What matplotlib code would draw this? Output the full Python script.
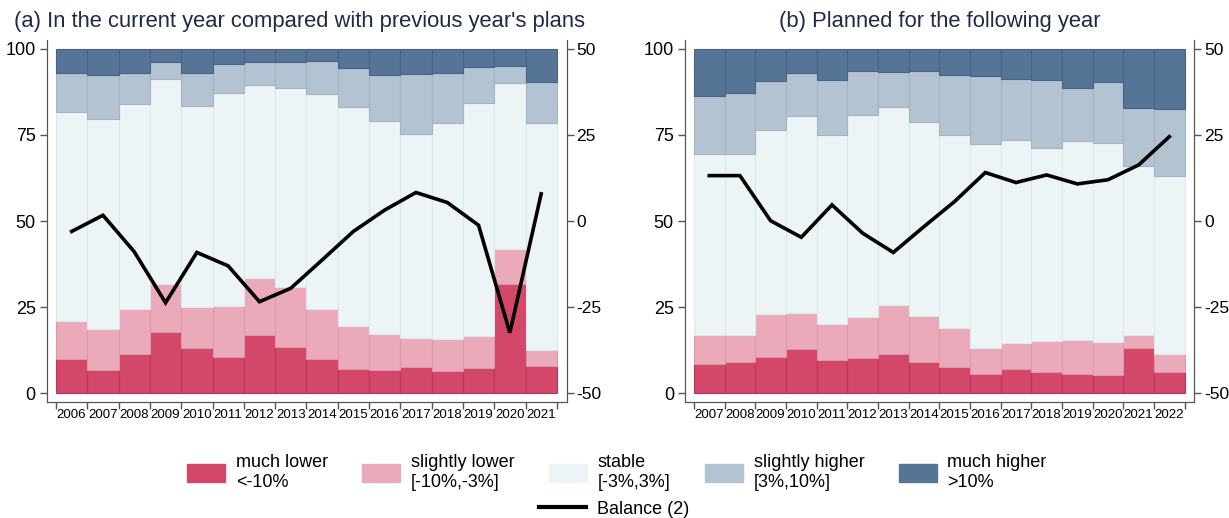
import matplotlib
matplotlib.use("Agg")
import matplotlib.pyplot as plt
from matplotlib.patches import Patch
from matplotlib.lines import Line2D
import numpy as np

plt.rcParams['font.family'] = ['Liberation Sans', 'DejaVu Sans']
plt.rcParams['axes.unicode_minus'] = False

# shares of firms (%), by category
years_a = list(range(2006, 2022))
much_lower_a = [9.9, 6.8, 11.4, 17.8, 13.2, 10.6, 16.9, 13.6, 9.9, 7.2, 6.7, 7.7, 6.6, 7.4, 31.8, 8.0]
slightly_lower_a = [11.1, 11.8, 13.2, 14.0, 12.0, 14.8, 16.5, 17.4, 14.5, 12.4, 10.4, 8.4, 9.1, 9.3, 10.0, 4.5]
stable_a = [60.6, 61.0, 59.4, 59.5, 58.3, 61.9, 56.1, 57.5, 62.4, 63.5, 62.1, 59.1, 62.9, 67.7, 48.2, 66.1]
slightly_higher_a = [11.3, 12.8, 9.1, 4.9, 9.6, 8.3, 6.8, 7.7, 9.8, 11.3, 13.2, 17.5, 14.5, 10.2, 4.9, 11.9]
much_higher_a = [7.1, 7.6, 6.9, 3.8, 6.9, 4.4, 3.7, 3.8, 3.4, 5.6, 7.6, 7.3, 6.9, 5.4, 5.1, 9.5]
balance_a = [-3.0, 1.7, -8.9, -23.7, -9.1, -13.0, -23.4, -19.5, -11.3, -3.0, 3.2, 8.3, 5.4, -1.2, -32.4, 7.9]

years_b = list(range(2007, 2023))
much_lower_b = [8.5, 9.0, 10.6, 12.8, 9.7, 10.3, 11.5, 9.1, 7.6, 5.6, 7.1, 6.1, 5.6, 5.3, 13.1, 6.3]
slightly_lower_b = [8.3, 7.8, 12.4, 10.6, 10.3, 11.8, 14.1, 13.4, 11.3, 7.6, 7.6, 9.1, 9.9, 9.6, 3.9, 5.1]
stable_b = [52.6, 52.6, 53.5, 57.1, 55.0, 58.7, 57.5, 56.4, 56.0, 59.1, 58.9, 55.9, 57.8, 57.7, 49.1, 51.8]
slightly_higher_b = [16.8, 17.9, 14.2, 12.4, 16.0, 12.9, 10.1, 14.6, 17.5, 19.9, 17.7, 19.8, 15.3, 17.7, 16.6, 19.3]
much_higher_b = [13.8, 12.7, 9.3, 7.1, 9.0, 6.3, 6.8, 6.5, 7.6, 7.8, 8.7, 9.1, 11.4, 9.7, 17.3, 17.5]
balance_b = [13.2, 13.2, 0.1, -4.7, 4.7, -3.5, -9.1, -1.6, 5.7, 14.1, 11.2, 13.4, 10.8, 12.0, 16.3, 24.5]

labels = ["much lower\n<-10%", "slightly lower\n[-10%,-3%]", "stable\n[-3%,3%]",
          "slightly higher\n[3%,10%]", "much higher\n>10%"]
colors = ["#d2476a", "#ebaab9", "#edf4f5", "#b3c3d1", "#567496"]
edges = ["#bf3358", "#dc98a8", "#dde8ec", "#a2b3c2", "#46628a"]
axis_col = "#555555"
title_col = "#1f2a48"


def draw_panel(ax, years, parts, balance, title, title_x):
    x = np.array(years)
    bottom = np.zeros(len(years))
    for vals, c, ec in zip(parts, colors, edges):
        ax.bar(x, vals, width=1.0, bottom=bottom, color=c, edgecolor=ec, linewidth=0.8)
        bottom += np.array(vals)
    ax.set_xlim(x[0] - 0.79, x[-1] + 0.82)
    ax.set_ylim(-2.5, 102.6)
    ax.set_yticks([0, 25, 50, 75, 100])
    ax.set_xticks(x)
    ax.set_xticklabels([str(y) for y in years], fontsize=9.6)
    ax.tick_params(axis='x', length=0, pad=5)
    ax.set_xticks(np.append(x - 0.5, x[-1] + 0.5), minor=True)
    ax.tick_params(axis='x', which='minor', length=5, color=axis_col, width=1)
    ax.tick_params(axis='y', labelsize=13, length=5, color=axis_col, width=1, pad=3)
    ax.spines['top'].set_visible(False)
    for s in ['left', 'bottom', 'right']:
        ax.spines[s].set_color(axis_col)
    ax.set_title(title, fontsize=15.8, color=title_col, pad=9, x=title_x)

    ax2 = ax.twinx()
    ax2.plot(x, balance, color='black', lw=2.6, solid_joinstyle='miter')
    ax2.set_ylim(-52.5, 52.6)
    ax2.set_yticks([-50, -25, 0, 25, 50])
    ax2.tick_params(axis='y', labelsize=12.5, length=5, color=axis_col, width=1, pad=2)
    ax2.spines['top'].set_visible(False)
    for s in ['left', 'bottom', 'right']:
        ax2.spines[s].set_color(axis_col)
    return ax2


fig = plt.figure(figsize=(12.29, 5.18), dpi=100)
ax_a = fig.add_axes([0.0382, 0.224, 0.423, 0.699])
ax_b = fig.add_axes([0.5574, 0.224, 0.4145, 0.699])

draw_panel(ax_a, years_a,
           [much_lower_a, slightly_lower_a, stable_a, slightly_higher_a, much_higher_a],
           balance_a, "(a) In the current year compared with previous year's plans", 0.485)
draw_panel(ax_b, years_b,
           [much_lower_b, slightly_lower_b, stable_b, slightly_higher_b, much_higher_b],
           balance_b, "(b) Planned for the following year", 0.5)

handles = [Patch(facecolor=c, edgecolor=c) for c in colors]
fig.legend(handles, labels, loc='center', bbox_to_anchor=(0.502, 0.088), ncol=5,
           frameon=False, fontsize=13, handlelength=2.1, handleheight=1.2,
           handletextpad=0.6, columnspacing=1.9, labelspacing=0.2)
fig.legend([Line2D([0], [0], color='black', lw=3)], ["Balance (2)"], loc='center',
           bbox_to_anchor=(0.5, 0.017), frameon=False, fontsize=13,
           handlelength=2.6, handletextpad=0.6)

fig.savefig("out.png", dpi=100)
